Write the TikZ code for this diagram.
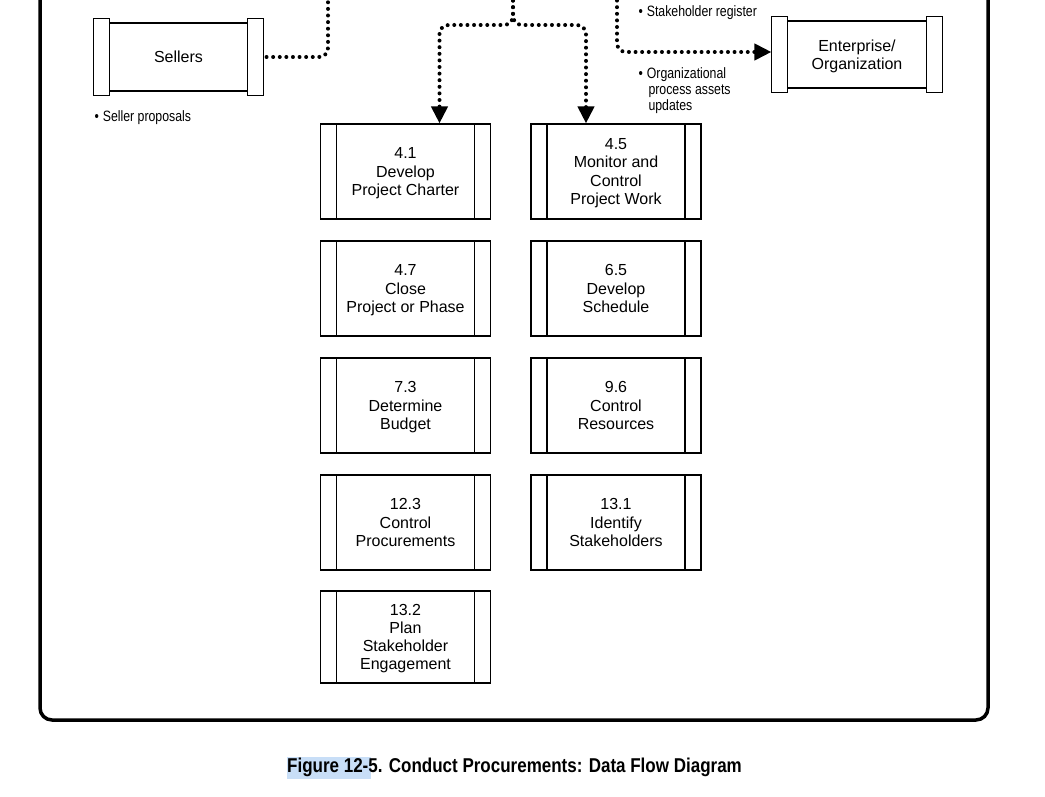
\documentclass[tikz,border=0pt]{standalone}
\usepackage{fontspec}
\setmainfont{Liberation Sans}
\newfontfamily\narrowfont[FakeStretch=0.82]{Liberation Sans}
\newfontfamily\capfont[FakeStretch=0.85]{Liberation Sans}
\usetikzlibrary{arrows.meta}
\definecolor{selblue}{RGB}{200,222,247}
\begin{document}
\begin{tikzpicture}[x=1pt,y=-1pt,
  line width=1.1pt,
  proc/.style={draw, line width=1.1pt, minimum width=170pt, minimum height=95pt,
    inner sep=0pt, align=center, font=\fontsize{16}{18.2}\selectfont,
    text depth=-2pt,
    path picture={
      \draw[line width=1.1pt] ([xshift=16pt]path picture bounding box.north west) -- ([xshift=16pt]path picture bounding box.south west);
      \draw[line width=1.1pt] ([xshift=-16pt]path picture bounding box.north east) -- ([xshift=-16pt]path picture bounding box.south east);
    }},
  ext/.style={draw, line width=1.1pt, inner sep=0pt, align=center, font=\fontsize{16}{18.5}\selectfont},
  bar/.style={draw, fill=white, line width=1.1pt},
  dotline/.style={line width=4pt, line cap=round, dash pattern=on 0pt off 6.6pt, rounded corners=9pt},
  dotarrow/.style={dotline, -{Triangle[length=17pt,width=16pt]}},
  bul/.style={inner sep=0pt, anchor=west, font=\narrowfont\fontsize{15}{16}\selectfont},
]
\useasboundingbox (0,0) rectangle (1045,797);
\clip (0,0) rectangle (1045,797);

% outer frame
\draw[line width=3.5pt, rounded corners=12pt] (40,-40) -- (40,720) -- (988,720) -- (988,-40);

% external entities
\node[ext, minimum width=169pt, minimum height=68pt, text depth=-4pt] (sellers) at (178.5,57) {Sellers};
\draw[bar] ([yshift=4pt]sellers.north west) rectangle ([xshift=16pt,yshift=-4pt]sellers.south west);
\draw[bar] ([yshift=4pt]sellers.north east) rectangle ([xshift=-16pt,yshift=-4pt]sellers.south east);

\node[ext, minimum width=170pt, minimum height=67pt, text depth=-2.6pt] (ent) at (857,54.5) {Enterprise/\\Organization};
\draw[bar] ([yshift=4pt]ent.north west) rectangle ([xshift=16pt,yshift=-4pt]ent.south west);
\draw[bar] ([yshift=4pt]ent.north east) rectangle ([xshift=-16pt,yshift=-4pt]ent.south east);

% processes
\node[proc] (p41) at (405.5,171.5) {4.1\\Develop\\Project Charter};
\node[proc] (p45) at (616,171.5) {4.5\\Monitor and\\Control\\Project Work};
\node[proc] (p47) at (405.5,288.5) {4.7\\Close\\Project or Phase};
\node[proc] (p65) at (616,288.5) {6.5\\Develop\\Schedule};
\node[proc] (p73) at (405.5,405.5) {7.3\\Determine\\Budget};
\node[proc] (p96) at (616,405.5) {9.6\\Control\\Resources};
\node[proc] (p123) at (405.5,522.5) {12.3\\Control\\Procurements};
\node[proc] (p131) at (616,522.5) {13.1\\Identify\\Stakeholders};
\node[proc, minimum height=92pt] (p132) at (405.5,637) {13.2\\Plan\\Stakeholder\\Engagement};

% labels
\node[bul] (lsel) at (94,118) {\textbullet\hspace{4pt}Seller proposals};
\node[bul] (lstk) at (638,13) {\textbullet\hspace{4pt}Stakeholder register};
\node[bul, align=left, anchor=north west] (lopa) at (638,67.5) {\textbullet\hspace{4pt}Organizational\\\hspace*{10pt}process assets\\\hspace*{10pt}updates};

% connectors
\coordinate (topS) at (328,-6);
\coordinate (topC) at (513,-6);
\coordinate (split) at (513,25);
\coordinate (topR) at (617,-6);
\draw[dotline] ([xshift=3pt]sellers.east) -| (topS);
\draw[dotarrow] (topC) -- (split) -| ([xshift=34pt]p41.north);
\draw[dotarrow] (topC) -- (split) -| ([xshift=-30pt]p45.north);
\draw[dotarrow] (topR) |- ([yshift=2.5pt]ent.west);

% caption
\fill[selblue] (287,757) rectangle (371,779);
\node[inner sep=0pt, font=\capfont\bfseries\fontsize{20}{22}\selectfont] (cap) at (514.5,767.5) {Figure 12-5. Conduct Procurements: Data Flow Diagram};
\end{tikzpicture}
\end{document}
